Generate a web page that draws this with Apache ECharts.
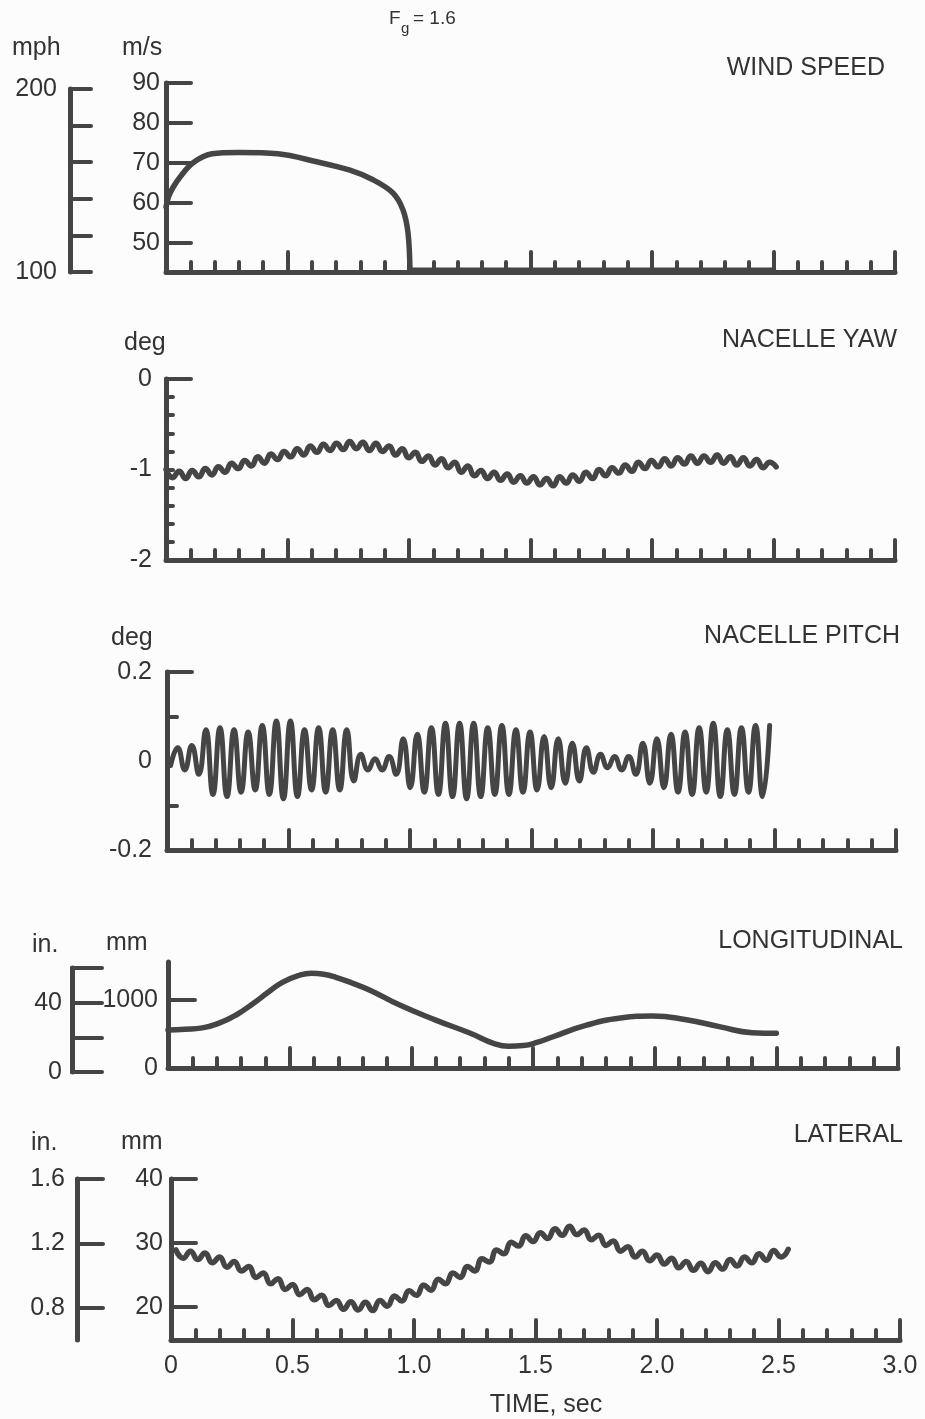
<!DOCTYPE html>
<html><head><meta charset="utf-8">
<script src="https://cdn.jsdelivr.net/npm/echarts@6/dist/echarts.min.js"></script>
<style>html,body{margin:0;padding:0;background:#fcfcfc}#c{width:925px;height:1419px}</style>
</head><body><div id="c"></div>
<script>
// ---------------- data ----------------
const xTickLabels = ['0','0.5','1.0','1.5','2.0','2.5','3.0'];
const panelTitles = ['WIND SPEED','NACELLE YAW','NACELLE PITCH','LONGITUDINAL','LATERAL'];

// wind speed, m/s
const windT = [0,0.01,0.03,0.058,0.11,0.19,0.30,0.46,0.62,0.757,0.852,0.934,0.975,0.996,1.004,1.5,2.0,2.5];
const windV = [59,61.5,64,66.5,70,72.3,72.6,72.3,70.3,68.2,65.8,62.5,58.3,52.5,43.2,43.2,43.2,43.2];
const windDropT = 1.004;

// nacelle yaw, deg (successive crests/troughs)
const yawT0 = 0, yawStep = 0.027;
const yawV = [-1.00,-1.09,-1.02,-1.10,-1.01,-1.08,-0.99,-1.06,-0.97,-1.03,
 -0.93,-0.99,-0.90,-0.96,-0.86,-0.93,-0.83,-0.89,-0.80,-0.86,
 -0.77,-0.84,-0.74,-0.81,-0.72,-0.79,-0.71,-0.78,-0.69,-0.77,
 -0.70,-0.79,-0.71,-0.80,-0.74,-0.84,-0.77,-0.87,-0.81,-0.91,
 -0.85,-0.95,-0.88,-0.98,-0.92,-1.03,-0.96,-1.07,-1.01,-1.10,
 -1.03,-1.12,-1.05,-1.14,-1.07,-1.15,-1.08,-1.17,-1.10,-1.18,
 -1.08,-1.15,-1.06,-1.13,-1.03,-1.10,-1.00,-1.07,-0.98,-1.04,
 -0.95,-1.02,-0.92,-0.99,-0.90,-0.97,-0.88,-0.96,-0.87,-0.94,
 -0.85,-0.93,-0.85,-0.92,-0.84,-0.93,-0.86,-0.95,-0.87,-0.96,
 -0.89,-0.98,-0.92,-0.97];

// nacelle pitch, deg (successive crests/troughs)
const pitchT0 = 0.015, pitchStep = 0.029;
const pitchV = [-0.01,0.03,-0.02,0.035,-0.03,0.07,-0.075,0.075,-0.08,0.07,
 -0.07,0.065,-0.065,0.08,-0.075,0.09,-0.085,0.09,-0.08,0.07,
 -0.065,0.075,-0.07,0.07,-0.065,0.07,-0.045,0.015,-0.02,0.005,
 -0.02,0.01,-0.03,0.05,-0.06,0.06,-0.07,0.075,-0.075,0.085,
 -0.08,0.085,-0.085,0.085,-0.08,0.075,-0.075,0.08,-0.075,0.07,
 -0.07,0.065,-0.065,0.055,-0.06,0.05,-0.05,0.04,-0.045,0.03,
 -0.025,0.015,-0.015,0.01,-0.02,0.01,-0.03,0.04,-0.05,0.05,
 -0.06,0.06,-0.07,0.065,-0.075,0.075,-0.07,0.085,-0.08,0.07,
 -0.075,0.075,-0.07,0.08,-0.08,0.08];

// longitudinal, mm
const longT = [0,0.07,0.14,0.21,0.28,0.35,0.41,0.47,0.54,0.59,0.64,0.69,0.76,0.83,0.95,1.10,1.24,1.34,1.40,1.46,1.52,1.58,1.72,1.86,1.99,2.13,2.27,2.40,2.50];
const longV = [560,570,590,660,780,950,1110,1260,1365,1395,1380,1335,1245,1145,930,705,515,360,320,330,380,456,630,735,765,710,605,520,510];

// lateral, mm (successive crests/troughs)
const latT0 = 0.02, latStep = 0.03;
const latV = [28.9,27.6,28.7,27.4,28.4,26.9,27.8,26.2,27.1,25.6,
 26.3,24.6,25.3,23.6,24.4,22.7,23.5,21.9,22.7,21.1,
 21.8,20.2,21.0,19.6,20.8,19.5,20.7,19.4,21.0,20.1,
 21.7,20.9,22.5,21.8,23.4,22.6,24.3,23.6,25.3,24.6,
 26.3,25.6,27.5,27.0,28.9,28.3,30.1,29.5,31.1,30.2,
 31.6,30.7,32.2,31.2,32.6,31.3,32.0,30.5,31.2,29.6,
 30.3,28.7,29.4,27.8,28.7,27.2,28.1,26.7,27.6,26.1,
 27.1,25.7,26.8,25.5,26.9,25.9,27.4,26.4,27.8,26.9,
 28.3,27.3,28.8,27.8,29.0];

// axis ticks / labels
const msTicks = [50,60,70,80,90];
const mphTicks = [100,120,140,160,180,200], mphLabels = [100,200];
const yawTicks = [-1.8,-1.6,-1.4,-1.2,-1,-0.8,-0.6,-0.4,-0.2], yawLabels = [0,-1,-2], yawTop = [0];
const pitchTicks = [-0.1,0.1], pitchLabels = [-0.2,0,0.2], pitchTop = [0.2];
const longMmTicks = [1000], longMmLabels = [0,1000];
const longInTicks = [0,20,40,60], longInLabels = [0,40];
const latMmTicks = [20,30,40], latInTicks = [0.8,1.2,1.6];

// ---------------- chart ----------------
const INK = '#454545', TXT = '#333';
const FONT = '"Liberation Sans", Arial, sans-serif';
const FS = 25;

function pairs(t0, step, vals){ return vals.map((v,i)=>[+(t0+i*step).toFixed(4), v]); }
function zip(ts, vs){ return ts.map((t,i)=>[t, vs[i]]); }

const grids = [
  {left:166, top:83,  width:729, height:189}, // 0 wind m/s
  {left:70,  top:89,  width:10,  height:183}, // 1 mph
  {left:166, top:379, width:729, height:181}, // 2 yaw
  {left:167, top:672, width:729, height:178}, // 3 pitch
  {left:168, top:962, width:730, height:106}, // 4 long mm
  {left:72,  top:968, width:10,  height:104}, // 5 long in
  {left:171, top:1179,width:729, height:161}, // 6 lat mm
  {left:77,  top:1179,width:10,  height:161}  // 7 lat in
].map(g=>Object.assign({containLabel:false, outerBoundsMode:'none'}, g));

function xAx(gi, show, labels){
  return {
    gridIndex:gi, type:'value', min:0, max:3, interval:0.5, show:show, position:'bottom',
    axisLine:{show:true, onZero:false, lineStyle:{color:INK, width:5}},
    axisTick:{show:true, inside:true, length:20, lineStyle:{color:INK, width:4, cap:'round'}},
    minorTick:{show:true, splitNumber:5, length:10, lineStyle:{color:INK, width:4, cap:'round'}},
    splitLine:{show:false}, minorSplitLine:{show:false},
    axisLabel:{show:!!labels, margin:14, fontSize:FS, fontFamily:FONT, color:TXT,
      formatter:(v)=>xTickLabels[Math.round(v/0.5)]}
  };
}
function yAx(gi, min, max, ticks, labels, tickLen, margin, lineShow){
  return {
    gridIndex:gi, type:'value', min:min, max:max, position:'left',
    axisLine:{show:lineShow!==false, onZero:false, lineStyle:{color:INK, width:5}},
    axisTick:{show:ticks.length>0, inside:true, length:tickLen, customValues:ticks,
      lineStyle:{color:INK, width:4, cap:'round'}},
    axisLabel:{show:labels.length>0, customValues:labels, margin:margin, fontSize:FS,
      fontFamily:FONT, color:TXT, formatter:(v)=>String(+v.toFixed(2))},
    splitLine:{show:false}
  };
}

const xAxes = [xAx(0,true), xAx(1,false), xAx(2,true), xAx(3,true), xAx(4,true), xAx(5,false), xAx(6,true,true), xAx(7,false)];
const yAxes = [
  yAx(0, 42.75, 90, msTicks, msTicks, 25, 6),
  yAx(1, 100, 200, mphTicks, mphLabels, 21, 13),
  yAx(2, -2, 0, yawTicks, yawLabels, 7, 14),
  yAx(2, -2, 0, yawTop, [], 25, 14, false),
  yAx(3, -0.2, 0.2, pitchTicks, pitchLabels, 10, 15),
  yAx(3, -0.2, 0.2, pitchTop, [], 25, 15, false),
  yAx(4, 0, 1560, longMmTicks, longMmLabels, 27, 10),
  yAx(5, 0, 60, longInTicks, longInLabels, 30, 10),
  yAx(6, 14.8, 40, latMmTicks, latMmTicks, 25, 8),
  yAx(7, 0.6, 1.6, latInTicks, latInTicks, 26, 12)
];

const windAll = zip(windT, windV);
function line(xi, yi, data, smooth, w){
  return {type:'line', xAxisIndex:xi, yAxisIndex:yi, data:data, showSymbol:false, symbol:'none',
    smooth:smooth, silent:true, clip:false,
    lineStyle:{color:INK, width:w||5, cap:'round', join:'round'}};
}
const series = [
  line(0,0, windAll.filter(p=>p[0]<=windDropT), 0.35, 5.5),
  line(0,0, windAll.filter(p=>p[0]>=windDropT), false, 5.5),
  line(2,2, pairs(yawT0, yawStep, yawV), 0.5, 5.5),
  line(3,4, pairs(pitchT0, pitchStep, pitchV), 0.5, 5),
  line(4,6, zip(longT, longV), 0.5, 5.5),
  line(6,8, pairs(latT0, latStep, latV), 0.5, 5.5)
];

function txt(x, y, s, opt){
  return {type:'text', x:x, y:y, silent:true,
    style:Object.assign({text:s, fill:TXT, font:FS+'px '+FONT, textAlign:'left', textVerticalAlign:'middle',
      align:'left', verticalAlign:'middle'}, opt||{})};
}
const R = {textAlign:'right', align:'right'};
const titleY = [68, 340, 636, 941, 1135];
const titleX = [885, 897, 900, 903, 903];
const graphics = [
  txt(12, 48, 'mph'), txt(122, 48, 'm/s'),
  txt(389, 19, 'F', {font:'19px '+FONT}),
  txt(401, 29, 'g', {font:'15px '+FONT}),
  txt(413, 19, '= 1.6', {font:'19px '+FONT}),
  txt(124, 343, 'deg'), txt(111, 638, 'deg'),
  txt(32, 945, 'in.'), txt(106, 943, 'mm'),
  txt(31, 1143, 'in.'), txt(121, 1142, 'mm'),
  txt(546, 1405, 'TIME, sec', {textAlign:'center', align:'center'})
].concat(panelTitles.map((t,i)=>txt(titleX[i], titleY[i], t, R)));

const chart = echarts.init(document.getElementById('c'), null, {renderer:'canvas'});
chart.setOption({
  backgroundColor:'#fcfcfc', animation:false,
  grid:grids, xAxis:xAxes, yAxis:yAxes, series:series,
  graphic:{elements:graphics}
});
</script></body></html>
